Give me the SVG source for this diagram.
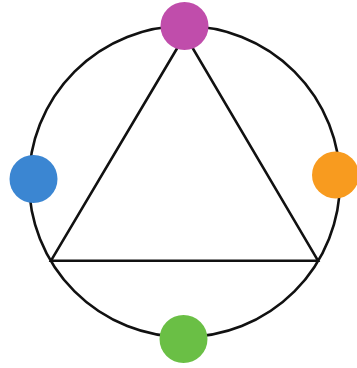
<svg xmlns="http://www.w3.org/2000/svg" width="357" height="368" viewBox="0 0 357 368">
<style>
.ln{fill:none;stroke:#111;stroke-width:2.6;stroke-linejoin:miter}
.dot{stroke:none}
</style>
<rect width="357" height="368" fill="#fff"/>
<g id="connectors">
<circle class="ln" cx="184.5" cy="181.5" r="155.5"/>
<polygon class="ln" points="185,35 51,260.7 318,260.7"/>
</g>
<g id="node-top"><circle class="dot" cx="184.5" cy="26" r="24" fill="#C04DAB"/></g>
<g id="node-left"><circle class="dot" cx="33.5" cy="179" r="24" fill="#3B86D2"/></g>
<g id="node-right"><circle class="dot" cx="335.5" cy="175" r="23.5" fill="#F89B1F"/></g>
<g id="node-bottom"><circle class="dot" cx="183.5" cy="339" r="24" fill="#6ABF45"/></g>
</svg>
